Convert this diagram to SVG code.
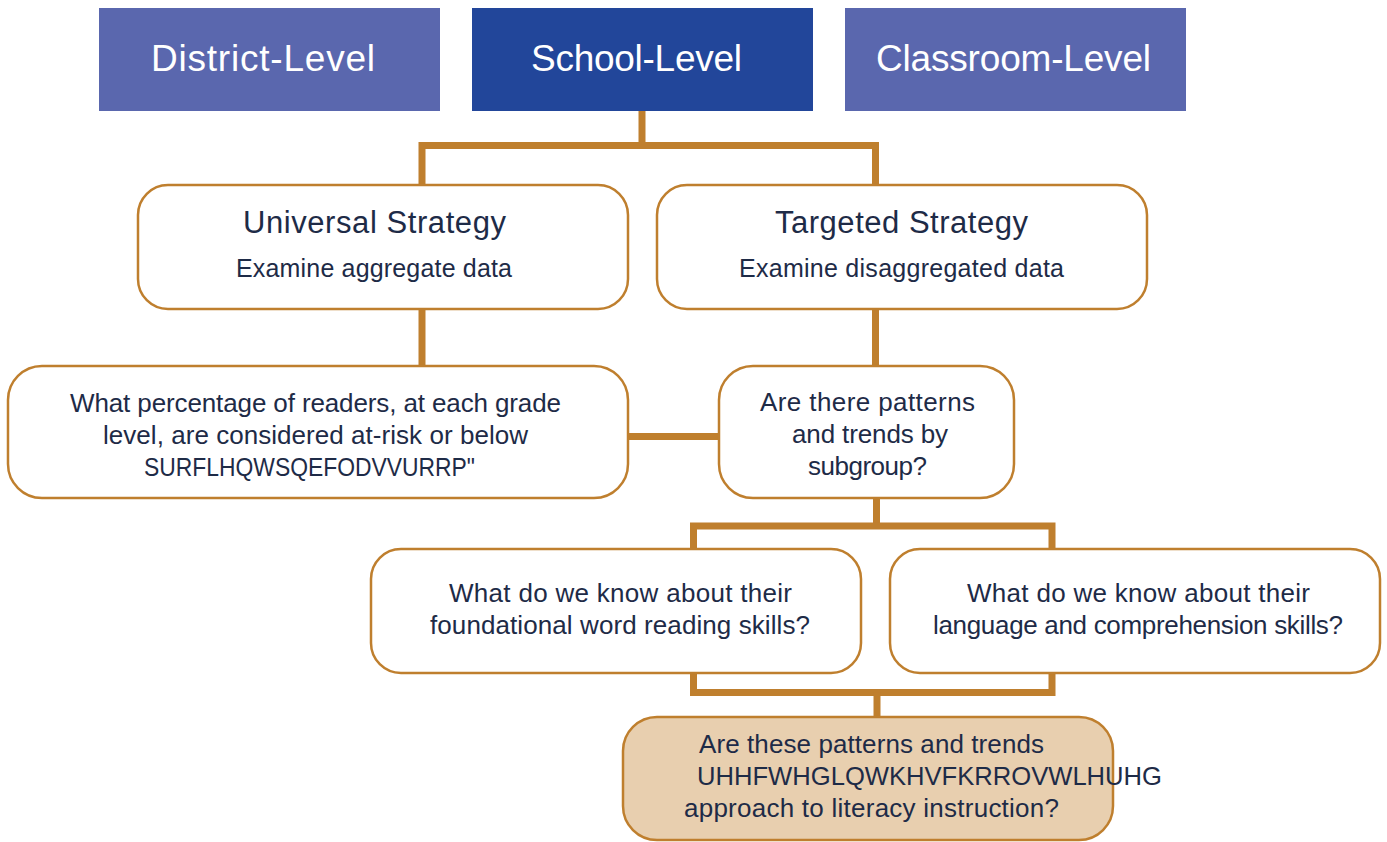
<svg xmlns="http://www.w3.org/2000/svg" width="1387" height="842" viewBox="0 0 1387 842">
<style>
.hdr{font-family:"Liberation Sans",Arial,sans-serif;font-size:37px;fill:#ffffff;text-anchor:middle}
.box{fill:#ffffff;stroke:#BF7F2E;stroke-width:2.5}
.fin{fill:#E8CFAF;stroke:#BF7F2E;stroke-width:2.5}
.t{font-family:"Liberation Sans",Arial,sans-serif;font-size:26px;fill:#1E2B47;text-anchor:middle}
.ts{font-family:"Liberation Sans",Arial,sans-serif;font-size:26px;fill:#1E2B47}
.ttl{font-family:"Liberation Sans",Arial,sans-serif;font-size:31px;fill:#1E2B47;text-anchor:middle}
.sub{font-family:"Liberation Sans",Arial,sans-serif;font-size:25px;fill:#1E2B47;text-anchor:middle}
.con{fill:none;stroke:#BF7F2E;stroke-width:7;stroke-linejoin:miter}
</style>
<rect width="1387" height="842" fill="#ffffff"/>
<g id="connectors">
<path class="con" d="M642 111 V145.5"/>
<path class="con" d="M422 185 V145.5 H875.5 V185"/>
<path class="con" d="M422 309 V366"/>
<path class="con" d="M875.5 309 V366"/>
<path class="con" d="M628 436.5 H719"/>
<path class="con" d="M876.5 498 V526"/>
<path class="con" d="M693.5 549 V526 H1052 V549"/>
<path class="con" d="M693.5 673 V692.5 H1052 V673"/>
<path class="con" d="M877 692.5 V717"/>
</g>
<g id="district">
<rect x="99" y="8" width="341" height="103" fill="#5A67AE"/>
<text class="hdr" x="263" y="71" textLength="224">District-Level</text>
</g>
<g id="school">
<rect x="472" y="8" width="341" height="103" fill="#22469A"/>
<text class="hdr" x="636.5" y="71" textLength="211">School-Level</text>
</g>
<g id="classroom">
<rect x="845" y="8" width="341" height="103" fill="#5A67AE"/>
<text class="hdr" x="1013.5" y="71" textLength="275">Classroom-Level</text>
</g>
<g id="universal">
<rect class="box" x="138" y="185" width="490" height="124" rx="30"/>
<text class="ttl" x="374.5" y="233" textLength="263">Universal Strategy</text>
<text class="sub" x="374" y="277" textLength="276">Examine aggregate data</text>
</g>
<g id="targeted">
<rect class="box" x="657" y="185" width="490" height="124" rx="30"/>
<text class="ttl" x="901.5" y="233" textLength="253">Targeted Strategy</text>
<text class="sub" x="901.5" y="277" textLength="325">Examine disaggregated data</text>
</g>
<g id="percentage">
<rect class="box" x="8" y="366" width="620" height="132" rx="34"/>
<text class="t" x="315.5" y="412" textLength="491">What percentage of readers, at each grade</text>
<text class="t" x="315.5" y="444" textLength="425">level, are considered at-risk or below</text>
<text class="ts" x="144" y="476" textLength="331" lengthAdjust="spacingAndGlyphs">SURFLHQWSQEFODVVURRP"</text>
</g>
<g id="subgroup">
<rect class="box" x="719" y="366" width="295" height="132" rx="34"/>
<text class="t" x="867.5" y="411" textLength="215">Are there patterns</text>
<text class="t" x="870" y="443" textLength="156">and trends by</text>
<text class="t" x="867.5" y="475" textLength="119">subgroup?</text>
</g>
<g id="foundational">
<rect class="box" x="371" y="549" width="490" height="124" rx="30"/>
<text class="t" x="620.5" y="602" textLength="343">What do we know about their</text>
<text class="t" x="620" y="634" textLength="380">foundational word reading skills?</text>
</g>
<g id="language">
<rect class="box" x="890" y="549" width="490" height="124" rx="30"/>
<text class="t" x="1138.5" y="602" textLength="343">What do we know about their</text>
<text class="t" x="1138" y="634" textLength="410">language and comprehension skills?</text>
</g>
<g id="approach">
<rect class="fin" x="623" y="717" width="490" height="123" rx="34"/>
<text class="t" x="871.5" y="753" textLength="345">Are these patterns and trends</text>
<text class="ts" x="697" y="785" textLength="465" lengthAdjust="spacingAndGlyphs">UHHFWHGLQWKHVFKRROVWLHUHG</text>
<text class="t" x="871.5" y="817" textLength="375">approach to literacy instruction?</text>
</g>
</svg>
